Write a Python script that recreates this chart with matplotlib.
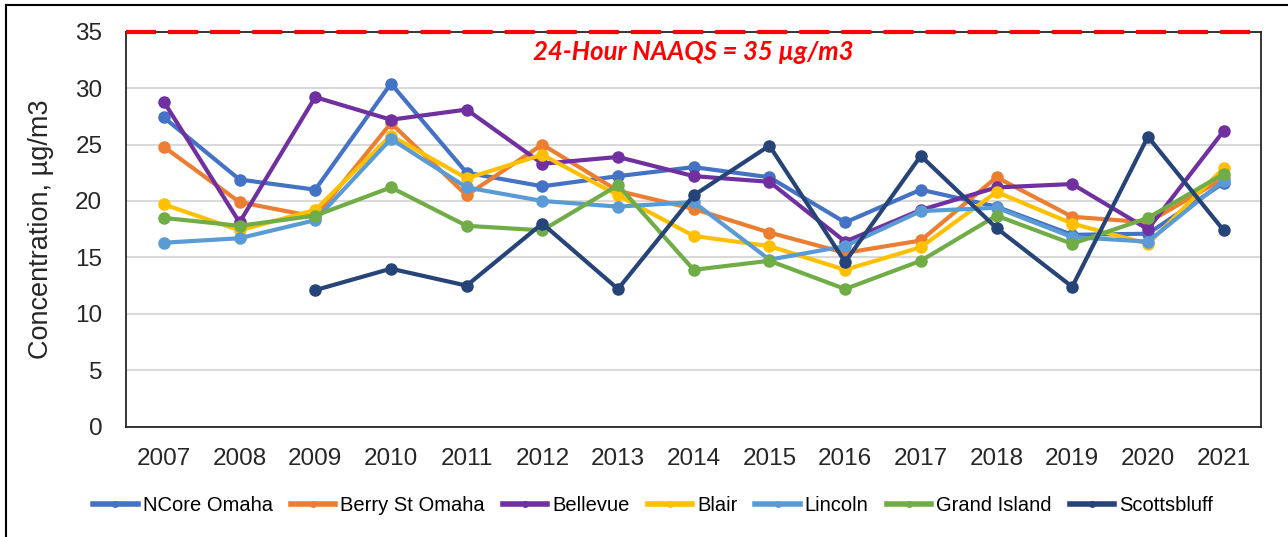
import numpy as np
import matplotlib
matplotlib.use("Agg")
import matplotlib.pyplot as plt
from matplotlib.lines import Line2D

years = ["2007", "2008", "2009", "2010", "2011", "2012", "2013", "2014",
         "2015", "2016", "2017", "2018", "2019", "2020", "2021"]

ncore_omaha = [27.4, 21.9, 21.0, 30.4, 22.5, 21.3, 22.2, 23.0, 22.1, 18.1, 21.0, 19.5, 17.0, 17.1, 21.6]
berry_st_omaha = [24.8, 19.9, 18.6, 26.9, 20.5, 25.0, 20.9, 19.3, 17.2, 15.4, 16.5, 22.1, 18.6, 18.1, 22.0]
bellevue = [28.8, 18.1, 29.2, 27.2, 28.1, 23.3, 23.9, 22.2, 21.7, 16.4, 19.2, 21.2, 21.5, 17.5, 26.2]
blair = [19.7, 17.4, 19.2, 25.8, 22.0, 24.1, 20.5, 16.9, 16.0, 13.9, 15.9, 20.8, 18.0, 16.2, 22.9]
lincoln = [16.3, 16.7, 18.3, 25.5, 21.2, 20.0, 19.5, 19.9, 14.8, 16.0, 19.1, 19.4, 16.8, 16.4, 21.8]
grand_island = [18.5, 17.8, 18.7, 21.2, 17.8, 17.4, 21.4, 13.9, 14.7, 12.2, 14.7, 18.7, 16.2, 18.5, 22.4]
scottsbluff = [np.nan, np.nan, 12.1, 14.0, 12.5, 18.0, 12.2, 20.5, 24.9, 14.6, 24.0, 17.6, 12.4, 25.7, 17.4]

naaqs = 35

series = [
    ("NCore Omaha", ncore_omaha, "#4472C4"),
    ("Berry St Omaha", berry_st_omaha, "#ED7D31"),
    ("Bellevue", bellevue, "#7030A0"),
    ("Blair", blair, "#FFC000"),
    ("Lincoln", lincoln, "#5B9BD5"),
    ("Grand Island", grand_island, "#70AD47"),
    ("Scottsbluff", scottsbluff, "#264478"),
]

fig = plt.figure(figsize=(12.88, 5.37), dpi=100)
ax = fig.add_axes([0.0978, 0.2054, 0.8816, 0.7356])

x = np.arange(len(years))
for name, vals, col in series:
    ax.plot(x, vals, color=col, lw=3.0, marker="o", ms=8, label=name,
            solid_capstyle="round", solid_joinstyle="round", zorder=3)

# standard line on the top border
ax.axhline(naaqs, color="red", lw=3.0, dashes=(7.2, 2.9), zorder=5, clip_on=False)
ax.text(0.5, 0.949, "24-Hour NAAQS = 35 µg/m3", transform=ax.transAxes,
        ha="center", va="center", color="red", fontsize=18.5,
        fontweight="bold", fontstyle="italic", family="Lato")

ax.set_xlim(-0.5, len(years) - 0.5)
ax.set_ylim(0, 35)
ax.set_yticks(range(0, 36, 5))
ax.set_xticks(x)
ax.set_xticklabels(years)
ax.yaxis.grid(True, color="#D9D9D9", lw=1.5)
ax.set_axisbelow(True)
ax.tick_params(length=0, labelsize=17.5, colors="#262626")
ax.tick_params(axis="x", pad=15)
ax.tick_params(axis="y", pad=17)
for lab in ax.get_xticklabels() + ax.get_yticklabels():
    lab.set_family("Liberation Sans")
for spine in ax.spines.values():
    spine.set_color("#262626")
    spine.set_linewidth(1.3)

ax.set_ylabel("Concentration, µg/m3", fontsize=19.5, family="Liberation Sans",
              color="#262626")
ax.yaxis.set_label_coords(-0.063, 0.5)

handles = [Line2D([0], [0], color=c, lw=4, marker="o", ms=4) for _, _, c in series]
leg = fig.legend(handles, [s[0] for s in series], loc="center",
                 bbox_to_anchor=(0.507, 0.058), ncol=7, frameon=False,
                 prop={"family": "Liberation Sans", "size": 14.5},
                 handlelength=2.2, handletextpad=0.25, columnspacing=0.9)

# partial outer frame (top and left edges)
fig.add_artist(Line2D([6 / 1288, 1.0], [1 - 5 / 537, 1 - 5 / 537], color="black", lw=1.5,
                      transform=fig.transFigure))
fig.add_artist(Line2D([6 / 1288, 6 / 1288], [0.0, 1 - 5 / 537], color="black", lw=1.5,
                      transform=fig.transFigure))

plt.savefig("out.png", dpi=100)
